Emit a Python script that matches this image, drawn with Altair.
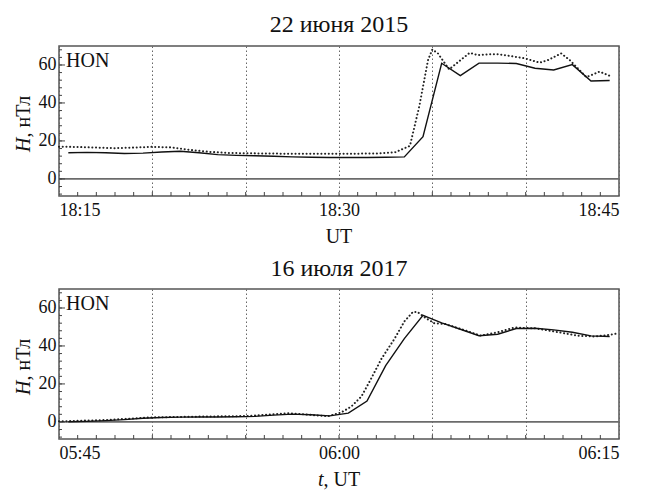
import altair as alt
import pandas as pd

# ---------------- data (minutes after panel start) ----------------
# Panel 1: 22 June 2015, 18:15 - 18:45 UT
p1_solid_t = [0.5, 1.5, 2.5, 3.5, 4.5, 5.5, 6.5, 7.5, 8.5, 9.5, 10.5, 11.5, 12.5, 13.5, 14.5,
              15.5, 16.5, 17.5, 18.5, 19.5, 20.5, 21.5, 22.5, 23.5, 24.5, 25.5, 26.5, 27.5, 28.5, 29.5]
p1_solid_v = [13.8, 14.0, 13.8, 13.4, 13.6, 14.2, 14.6, 13.8, 12.8, 12.4, 12.2, 11.9, 11.6, 11.4, 11.3,
              11.3, 11.3, 11.4, 11.6, 22.2, 60.9, 54.4, 61.0, 61.0, 60.8, 58.3, 57.4, 60.2, 51.6, 51.8]
p1_dot_t = [0, 1, 2, 3, 4, 5, 6, 7, 8, 9, 10, 11, 12, 13, 14, 15, 16, 17, 18, 18.8, 19.3, 19.77,
            20.0, 20.3, 20.9, 21.4, 22.0, 22.45, 23.0, 23.5, 24.2, 24.95, 25.75, 26.2, 26.9, 27.36,
            28.25, 28.96, 29.6]
p1_dot_v = [17.0, 16.8, 16.5, 16.2, 16.5, 16.9, 16.6, 15.3, 14.3, 13.7, 13.5, 13.4, 13.3, 13.3, 13.3,
            13.3, 13.3, 13.4, 14.0, 17.4, 38.2, 62.6, 68.2, 66.1, 57.7, 61.7, 66.4, 65.2, 65.6, 65.7,
            64.7, 63.5, 61.2, 62.6, 66.1, 62.6, 53.6, 56.5, 53.9]

# Panel 2: 16 July 2017, 05:45 - 06:15 UT
p2_solid_t = [0.5, 1.5, 2.5, 3.5, 4.5, 5.5, 6.5, 7.5, 8.5, 9.5, 10.5, 11.5, 12.5, 13.5, 14.5,
              15.5, 16.5, 17.5, 18.5, 19.5, 20.5, 21.5, 22.5, 23.5, 24.5, 25.5, 26.5, 27.5, 28.5, 29.5]
p2_solid_v = [0.1, 0.3, 0.7, 1.2, 1.9, 2.3, 2.5, 2.6, 2.6, 2.7, 2.9, 3.6, 4.1, 3.8, 3.2,
              4.6, 11.0, 29.6, 43.9, 56.1, 52.2, 48.8, 45.4, 46.2, 49.2, 49.3, 48.5, 47.2, 45.3, 45.0]
p2_dot_t = [0, 2.5, 5, 7.5, 10, 12.3, 14.4, 15.1, 15.66, 16.2, 16.7, 17.27, 17.98, 18.5, 18.96,
            19.2, 19.65, 20.1, 20.7, 21.7, 22.6, 23.5, 24.4, 25.5, 26.6, 27.8, 28.7, 29.3, 29.95]
p2_dot_v = [0.3, 1.0, 2.4, 2.8, 3.1, 4.6, 3.0, 4.9, 8.1, 13.4, 22.4, 33.2, 43.9, 52.9, 57.9,
            57.9, 54.7, 52.0, 51.5, 48.4, 45.4, 47.2, 49.7, 49.3, 47.5, 45.4, 45.0, 45.6, 46.6]

titles = ["22 июня 2015", "16 июля 2017"]
# x-axis titles: (italic part, upright part)
x_titles = [("", "UT"), ("t", ", UT")]
y_title = ("H", ", нТл")
tick_labels = [["18:15", "18:30", "18:45"], ["05:45", "06:00", "06:15"]]
tick_label_pos = [0, 15, 30]
grid_pos = [0, 5, 10, 15, 20, 25, 30]
y_labels = [0, 20, 40, 60]
station = "HON"

FONT = "Liberation Serif"
W, H = 560, 150
Y_DOMAIN = [-9, 70]
TS = 20  # axis-title font size


def panel(title, st, sv, dt, dv, labels, xtitle):
    expr = " : ".join(
        f"datum.value == {p} ? '{l}'" for p, l in zip(tick_label_pos, labels)) + " : ''"
    xaxis = alt.Axis(values=grid_pos, labelExpr=expr, grid=True, gridDash=[1.5, 2.5],
                     gridColor="#666", gridWidth=1, ticks=False, domain=False,
                     title="", labelPadding=5)
    yaxis = alt.Axis(values=y_labels, grid=False, ticks=False, domain=False,
                     title="", labelPadding=3)
    xs = alt.Scale(domain=[0, 30], nice=False, zero=False)
    ys = alt.Scale(domain=Y_DOMAIN, nice=False, zero=False)

    def X(f):
        return alt.X(f, scale=xs, axis=xaxis)

    def Y(f):
        return alt.Y(f, scale=ys, axis=yaxis)

    solid = pd.DataFrame({"t": st, "v": sv})
    dotted = pd.DataFrame({"t": dt, "v": dv})
    zero = pd.DataFrame({"v": [0]})
    xt = pd.DataFrame({"t": list(range(1, 30))})
    yt = pd.DataFrame({"v": list(range(-8, 70, 4))})
    ytm = pd.DataFrame({"v": y_labels})

    zero_l = alt.Chart(zero).mark_rule(color="#6b6b6b", strokeWidth=1.6).encode(y=Y("v:Q"))
    xticks = alt.Chart(xt).mark_rule(color="#444", strokeWidth=1).encode(
        x=X("t:Q"), y=alt.value(H), y2=alt.value(H - 4))
    yticks = alt.Chart(yt).mark_rule(color="#444", strokeWidth=1).encode(
        y=Y("v:Q"), x=alt.value(0), x2=alt.value(3))
    yticks_m = alt.Chart(ytm).mark_rule(color="#444", strokeWidth=1).encode(
        y=Y("v:Q"), x=alt.value(0), x2=alt.value(6))
    dot_l = alt.Chart(dotted).mark_line(color="#222", strokeWidth=2, strokeDash=[0.1, 3.6],
                                        strokeCap="round").encode(x=X("t:Q"), y=Y("v:Q"))
    sol_l = alt.Chart(solid).mark_line(color="#111", strokeWidth=1.4).encode(
        x=X("t:Q"), y=Y("v:Q"))
    lab = alt.Chart(pd.DataFrame({"s": [station]})).mark_text(
        font=FONT, fontSize=20, align="left", baseline="alphabetic", color="#111").encode(
        text="s:N", x=alt.value(7), y=alt.value(21))

    # axis titles with an italic variable name, drawn as text
    it, up = xtitle
    w_it = 0.278 * TS if it else 0
    w_up = (0.25 + 0.25 + 0.722 + 0.611) * TS if it else (0.722 + 0.611) * TS
    x0 = W / 2 - (w_it + w_up) / 2
    layers = [zero_l, xticks, yticks, yticks_m, dot_l, sol_l, lab]
    if it:
        layers.append(alt.Chart(pd.DataFrame({"s": [it]})).mark_text(
            font=FONT, fontSize=TS, fontStyle="italic", align="left", baseline="alphabetic",
            color="#111").encode(text="s:N", x=alt.value(x0), y=alt.value(H + 47)))
    layers.append(alt.Chart(pd.DataFrame({"s": [up]})).mark_text(
        font=FONT, fontSize=TS, align="left", baseline="alphabetic",
        color="#111").encode(text="s:N", x=alt.value(x0 + w_it), y=alt.value(H + 47)))

    yi, yu = y_title
    y_start = H / 2 + 31
    layers.append(alt.Chart(pd.DataFrame({"s": [yi]})).mark_text(
        font=FONT, fontSize=TS, fontStyle="italic", align="left", baseline="alphabetic",
        angle=270, color="#111").encode(text="s:N", x=alt.value(-29), y=alt.value(y_start)))
    layers.append(alt.Chart(pd.DataFrame({"s": [yu]})).mark_text(
        font=FONT, fontSize=TS, align="left", baseline="alphabetic",
        angle=270, color="#111").encode(text="s:N", x=alt.value(-29),
                                        y=alt.value(y_start - 0.722 * TS)))

    return alt.layer(*layers).properties(
        width=W, height=H,
        title=alt.TitleParams(title, font=FONT, fontSize=24, fontWeight="normal",
                              color="#111", offset=8))


top = panel(titles[0], p1_solid_t, p1_solid_v, p1_dot_t, p1_dot_v, tick_labels[0], x_titles[0])
bot = panel(titles[1], p2_solid_t, p2_solid_v, p2_dot_t, p2_dot_v, tick_labels[1], x_titles[1])

chart = alt.vconcat(top, bot, spacing=8).properties(
    padding={"left": 5, "top": 4, "right": 5, "bottom": 0}
).configure(font=FONT).configure_view(
    stroke="#555", strokeWidth=1.5
).configure_axis(
    labelFont=FONT, titleFont=FONT, labelFontSize=18, titleFontSize=20,
    titleFontWeight="normal", labelColor="#111", titleColor="#111"
)

chart.save("out.html", embed_options={"renderer": "svg", "actions": False})
